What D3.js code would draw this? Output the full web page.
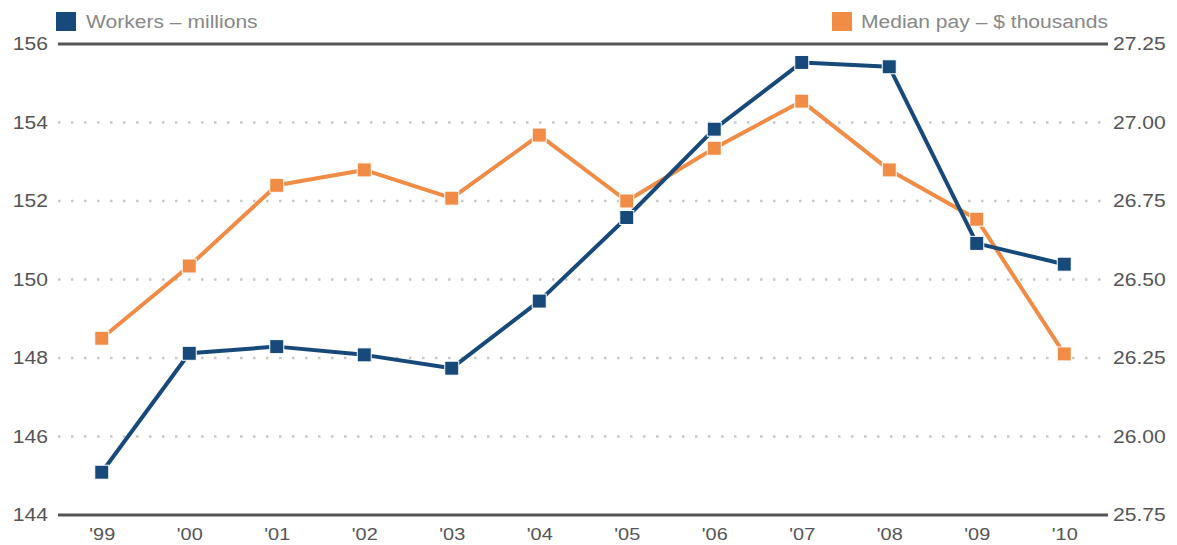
<!DOCTYPE html>
<html>
<head>
<meta charset="utf-8">
<script src="https://cdn.jsdelivr.net/npm/d3@7"></script>
<style>
html,body{margin:0;padding:0;background:#fff;}
svg{display:block;font-family:"Liberation Sans",Arial,sans-serif;}
</style>
</head>
<body>
<svg id="chart" width="1177" height="545"></svg>
<script>
const years = ["'99","'00","'01","'02","'03","'04","'05","'06","'07","'08","'09","'10"];
const workers = [145.09,148.12,148.29,148.08,147.74,149.45,151.58,153.83,155.53,155.42,150.92,150.39];
const medianPay = [26.313,26.543,26.80,26.849,26.759,26.96,26.75,26.918,27.068,26.849,26.692,26.263];
const leftTicks = [144,146,148,150,152,154,156];
const rightTicks = [25.75,26.00,26.25,26.50,26.75,27.00,27.25];
const legendLabels = ["Workers – millions","Median pay – $ thousands"];
const colors = {workers:"#174a7a", pay:"#f08c45"};

(function(){
const svg = d3.select("#chart");
const mLeft = 58, mRight = 1108, mTop = 44, mBottom = 515;
const stretch = 1.17;

function widen(sel){
  sel.each(function(){
    const w = this.getComputedTextLength();
    d3.select(this).attr("textLength", w*stretch).attr("lengthAdjust","spacingAndGlyphs");
  });
}

const x = d3.scalePoint().domain(years).range([mLeft, mRight]).padding(0.5);
const yL = d3.scaleLinear().domain([144,156]).range([mBottom, mTop]);
const yR = d3.scaleLinear().domain([25.75,27.25]).range([mBottom, mTop]);

svg.append("g").selectAll("line").data(leftTicks.slice(1,-1)).join("line")
  .attr("x1", mLeft).attr("x2", mRight)
  .attr("y1", d=>yL(d)).attr("y2", d=>yL(d))
  .attr("stroke","#c8c8c8").attr("stroke-width",2.4)
  .attr("stroke-dasharray","2.5,10.5");

[156,144].forEach(v=>{
  svg.append("line").attr("x1",mLeft).attr("x2",mRight)
    .attr("y1",yL(v)).attr("y2",yL(v))
    .attr("stroke","#555").attr("stroke-width",3);
});

const lAxis = d3.axisLeft(yL).tickValues(leftTicks).tickSize(0).tickPadding(10);
const gl = svg.append("g").attr("transform",`translate(${mLeft},0)`).call(lAxis);
gl.select(".domain").remove();
gl.selectAll("text").attr("fill","#555").attr("font-size",18).attr("font-family","Liberation Sans, Arial, sans-serif").call(widen);

const rAxis = d3.axisRight(yR).tickValues(rightTicks).tickSize(0).tickPadding(5).tickFormat(d3.format(".2f"));
const gr = svg.append("g").attr("transform",`translate(${mRight},0)`).call(rAxis);
gr.select(".domain").remove();
gr.selectAll("text").attr("fill","#555").attr("font-size",18).attr("font-family","Liberation Sans, Arial, sans-serif").call(widen);

const bAxis = d3.axisBottom(x).tickSize(0).tickPadding(13);
const gb = svg.append("g").attr("transform",`translate(0,${mBottom})`).call(bAxis);
gb.select(".domain").remove();
gb.selectAll("text").attr("fill","#555").attr("font-size",17).attr("font-family","Liberation Sans, Arial, sans-serif").call(widen);

function series(vals, scale, color){
  const line = d3.line().x((d,i)=>x(years[i])).y(d=>scale(d));
  svg.append("path").datum(vals).attr("d",line)
    .attr("fill","none").attr("stroke",color).attr("stroke-width",4)
    .attr("stroke-linejoin","round");
  svg.append("g").selectAll("rect").data(vals).join("rect")
    .attr("x",(d,i)=>x(years[i])-7).attr("y",d=>scale(d)-7)
    .attr("width",14).attr("height",14)
    .attr("fill",color).attr("stroke","#fff").attr("stroke-width",1);
}
series(medianPay, yR, colors.pay);
series(workers, yL, colors.workers);

const lg = svg.append("g");
lg.append("rect").attr("x",56).attr("y",12).attr("width",20).attr("height",19).attr("fill",colors.workers);
lg.append("text").attr("x",86).attr("y",28).text(legendLabels[0])
  .attr("fill","#888").attr("font-size",18).call(widen);
lg.append("rect").attr("x",832).attr("y",12).attr("width",20).attr("height",19).attr("fill",colors.pay);
lg.append("text").attr("x",1108).attr("y",28).attr("text-anchor","end").text(legendLabels[1])
  .attr("fill","#888").attr("font-size",18).call(widen);
})();
</script>
</body>
</html>
